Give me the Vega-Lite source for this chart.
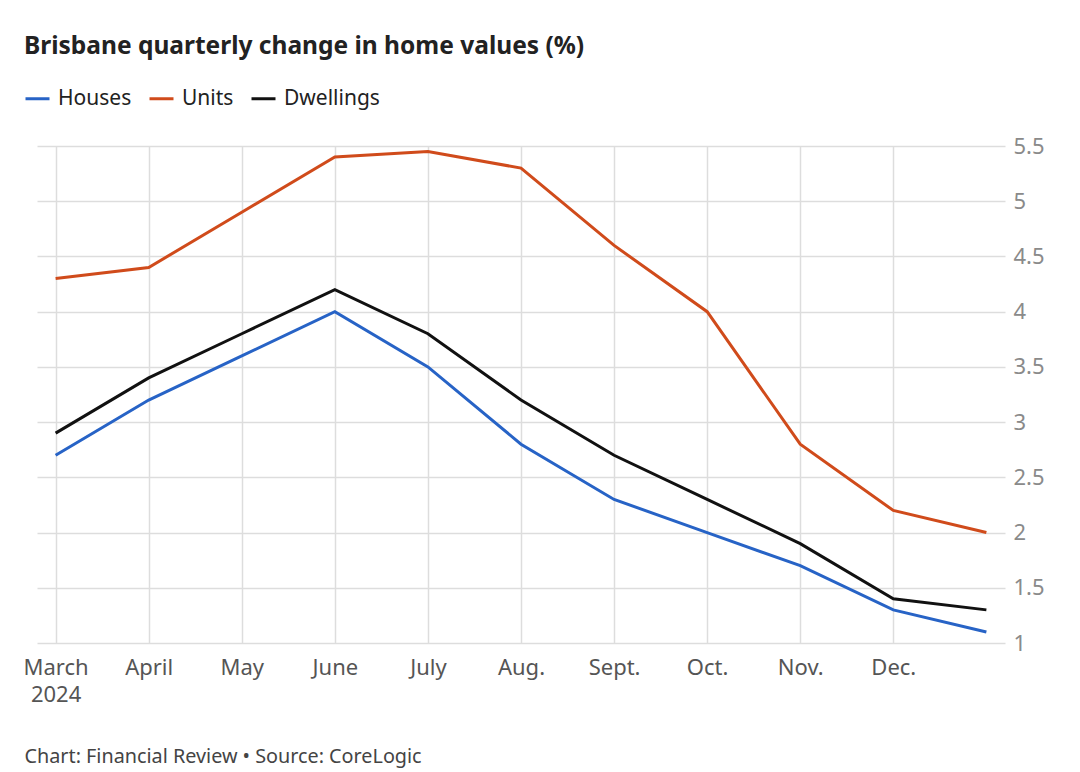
{
  "$schema": "https://vega.github.io/schema/vega-lite/v6.json",
  "autosize": {"type": "none"},
  "width": 968,
  "height": 497,
  "padding": {"left": 37, "top": 146, "right": 75, "bottom": 129},
  "background": "#ffffff",
  "config": {
    "font": "Noto Sans",
    "view": {"stroke": null}
  },
  "title": {
    "text": "Brisbane quarterly change in home values (%)",
    "anchor": "start",
    "frame": "group",
    "dx": -13,
    "fontSize": 24.5,
    "fontWeight": "bold",
    "color": "#222222",
    "font": "Noto Sans",
    "offset": 26
  },
  "data": {
    "values": [
      {"month": "March 2024", "series": "Houses", "value": 2.7},
      {"month": "April", "series": "Houses", "value": 3.2},
      {"month": "May", "series": "Houses", "value": 3.6},
      {"month": "June", "series": "Houses", "value": 4.0},
      {"month": "July", "series": "Houses", "value": 3.5},
      {"month": "Aug.", "series": "Houses", "value": 2.8},
      {"month": "Sept.", "series": "Houses", "value": 2.3},
      {"month": "Oct.", "series": "Houses", "value": 2.0},
      {"month": "Nov.", "series": "Houses", "value": 1.7},
      {"month": "Dec.", "series": "Houses", "value": 1.3},
      {"month": "Jan. 2025", "series": "Houses", "value": 1.1},
      {"month": "March 2024", "series": "Units", "value": 4.3},
      {"month": "April", "series": "Units", "value": 4.4},
      {"month": "May", "series": "Units", "value": 4.9},
      {"month": "June", "series": "Units", "value": 5.4},
      {"month": "July", "series": "Units", "value": 5.45},
      {"month": "Aug.", "series": "Units", "value": 5.3},
      {"month": "Sept.", "series": "Units", "value": 4.6},
      {"month": "Oct.", "series": "Units", "value": 4.0},
      {"month": "Nov.", "series": "Units", "value": 2.8},
      {"month": "Dec.", "series": "Units", "value": 2.2},
      {"month": "Jan. 2025", "series": "Units", "value": 2.0},
      {"month": "March 2024", "series": "Dwellings", "value": 2.9},
      {"month": "April", "series": "Dwellings", "value": 3.4},
      {"month": "May", "series": "Dwellings", "value": 3.8},
      {"month": "June", "series": "Dwellings", "value": 4.2},
      {"month": "July", "series": "Dwellings", "value": 3.8},
      {"month": "Aug.", "series": "Dwellings", "value": 3.2},
      {"month": "Sept.", "series": "Dwellings", "value": 2.7},
      {"month": "Oct.", "series": "Dwellings", "value": 2.3},
      {"month": "Nov.", "series": "Dwellings", "value": 1.9},
      {"month": "Dec.", "series": "Dwellings", "value": 1.4},
      {"month": "Jan. 2025", "series": "Dwellings", "value": 1.3}
    ]
  },
  "mark": {"type": "line", "strokeWidth": 3, "strokeJoin": "miter"},
  "encoding": {
    "x": {
      "field": "month",
      "type": "ordinal",
      "sort": ["March 2024", "April", "May", "June", "July", "Aug.", "Sept.", "Oct.", "Nov.", "Dec.", "Jan. 2025"],
      "scale": {"type": "point", "padding": 0.2},
      "axis": {
        "values": ["March 2024", "April", "May", "June", "July", "Aug.", "Sept.", "Oct.", "Nov.", "Dec."],
        "labelExpr": "split(datum.value, ' ')",
        "labelAngle": 0,
        "labelFontSize": 22,
        "labelColor": "#555555",
        "labelPadding": 24,
        "labelLineHeight": 27,
        "labelBaseline": "middle",
        "ticks": false,
        "domain": false,
        "grid": true,
        "gridColor": "#dddddd",
        "gridWidth": 1.5,
        "title": "Chart: Financial Review • Source: CoreLogic",
        "titleAnchor": "start",
        "titleAlign": "left",
        "titleX": -13,
        "titleY": 119,
        "titleBaseline": "alphabetic",
        "titleFontSize": 19.8,
        "titleFontWeight": "normal",
        "titleColor": "#444444"
      }
    },
    "y": {
      "field": "value",
      "type": "quantitative",
      "scale": {"domain": [1, 5.5], "nice": false, "zero": false},
      "axis": {
        "orient": "right",
        "values": [1, 1.5, 2, 2.5, 3, 3.5, 4, 4.5, 5, 5.5],
        "format": "~g",
        "labelFontSize": 22,
        "labelColor": "#8a8a8a",
        "labelPadding": 8,
        "ticks": false,
        "domain": false,
        "grid": true,
        "gridColor": "#dddddd",
        "gridWidth": 1.5,
        "title": null
      }
    },
    "color": {
      "field": "series",
      "type": "nominal",
      "scale": {"domain": ["Houses", "Units", "Dwellings"], "range": ["#2763c6", "#d04b1b", "#111111"]},
      "legend": {
        "title": null,
        "orient": "none",
        "legendX": -13,
        "legendY": -61,
        "direction": "horizontal",
        "symbolType": "stroke",
        "symbolSize": 576,
        "symbolStrokeWidth": 3,
        "labelFontSize": 21,
        "labelColor": "#222222",
        "labelOffset": 7,
        "columnPadding": 11,
        "labelLimit": 300
      }
    }
  }
}
